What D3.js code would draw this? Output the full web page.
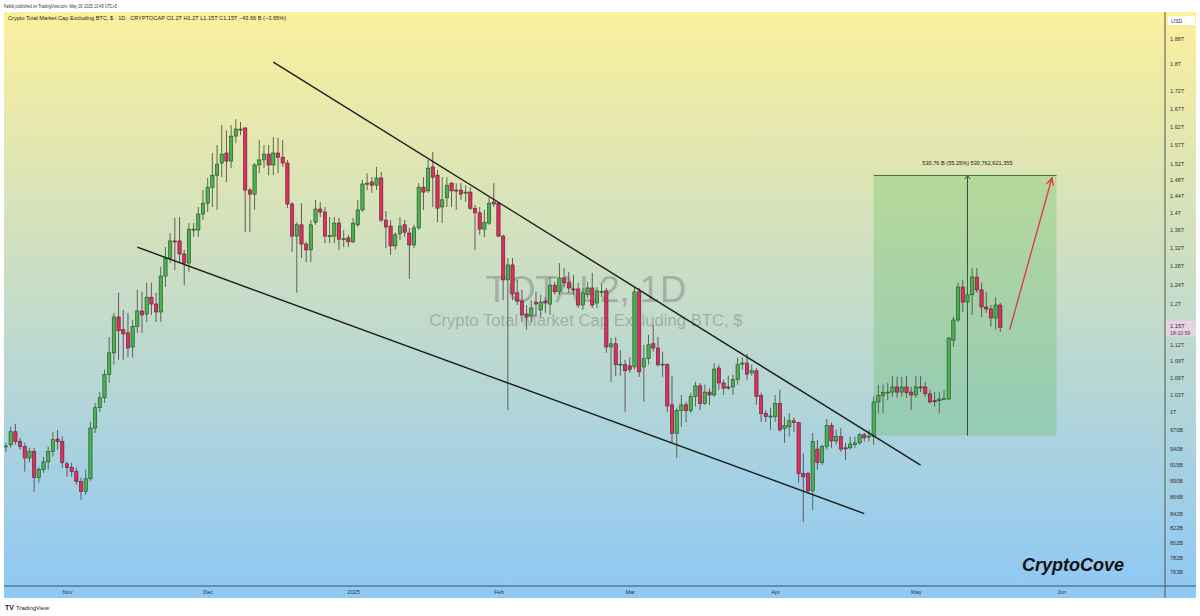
<!DOCTYPE html>
<html>
<head>
<meta charset="utf-8">
<script src="https://cdn.jsdelivr.net/npm/d3@7"></script>
<style>
  body { margin: 0; background: #fff; }
  text { font-family: "Liberation Sans", Arial, sans-serif; }
</style>
</head>
<body>
<div id="chart"></div>
<script>
var svgWidth = 1200;
var svgHeight = 616;

// daily candles from 2024-10-19 to 2025-05-19, values in trillions USD
var firstDay = "2024-10-19";

var opens = [
  .943, .946, .967, .951, .943, .925, .935, .895, .907, .919,
  .935, .955, .951, .916, .910, .904, .889, .874, .893, .973,
  1.007, 1.024, 1.065, 1.105, 1.174, 1.149, 1.143, 1.116, 1.155, 1.186,
  1.180, 1.214, 1.200, 1.184, 1.258, 1.297, 1.335, 1.335, 1.306, 1.286,
  1.360, 1.360, 1.397, 1.423, 1.462, 1.492, 1.523, 1.549, 1.528, 1.594,
  1.613, 1.616, 1.455, 1.445, 1.518, 1.531, 1.546, 1.518, 1.549, 1.538,
  1.523, 1.421, 1.346, 1.372, 1.328, 1.315, 1.378, 1.409, 1.402, 1.346,
  1.346, 1.376, 1.339, 1.342, 1.333, 1.372, 1.407, 1.470, 1.475, 1.467,
  1.485, 1.383, 1.369, 1.324, 1.351, 1.372, 1.353, 1.326, 1.365, 1.462,
  1.453, 1.513, 1.492, 1.414, 1.436, 1.472, 1.455, 1.455, 1.448, 1.450,
  1.411, 1.400, 1.362, 1.376, 1.426, 1.423, 1.346, 1.250, 1.282, 1.223,
  1.206, 1.180, 1.176, 1.204, 1.188, 1.206, 1.200, 1.239, 1.225, 1.254,
  1.244, 1.231, 1.231, 1.198, 1.219, 1.233, 1.202, 1.225, 1.227, 1.116,
  1.122, 1.083, 1.083, 1.081, 1.079, 1.225, 1.079, 1.094, 1.122, 1.114,
  1.083, 1.083, 1.012, .964, 1.002, 1.012, 1.002, 1.026, 1.045, 1.014,
  1.034, 1.029, 1.077, 1.050, 1.043, 1.043, 1.056, 1.085, 1.086, 1.068,
  1.072, 1.028, .997, .993, .992, 1.014, .972, .975, .985, .982,
  .901, .901, .875, .939, .918, .943, .977, .952, .959, .941,
  .941, .946, .949, .962, .959, .959, 1.017, 1.028, 1.033, 1.034,
  1.043, 1.034, 1.043, 1.034, 1.029, 1.043, 1.043, 1.031, 1.019, 1.019,
  1.022, 1.022, 1.129, 1.168, 1.235, 1.204, 1.219, 1.256, 1.229, 1.194,
  1.190, 1.172, 1.198
];

var highs = [
  .949, .975, .980, .957, .949, .941, .941, .911, .927, .943,
  .967, .970, .959, .919, .918, .910, .895, .907, .983, 1.015,
  1.034, 1.074, 1.135, 1.182, 1.223, 1.188, 1.182, 1.168, 1.229, 1.225,
  1.244, 1.244, 1.223, 1.278, 1.321, 1.353, 1.388, 1.390, 1.315, 1.376,
  1.376, 1.414, 1.455, 1.485, 1.549, 1.570, 1.624, 1.610, 1.624, 1.640,
  1.632, 1.618, 1.460, 1.523, 1.583, 1.570, 1.570, 1.591, 1.589, 1.583,
  1.531, 1.426, 1.378, 1.423, 1.333, 1.383, 1.431, 1.426, 1.414, 1.390,
  1.390, 1.388, 1.360, 1.349, 1.388, 1.431, 1.480, 1.497, 1.487, 1.513,
  1.500, 1.404, 1.383, 1.355, 1.390, 1.383, 1.365, 1.372, 1.472, 1.487,
  1.531, 1.552, 1.505, 1.487, 1.487, 1.475, 1.472, 1.472, 1.467, 1.462,
  1.419, 1.414, 1.407, 1.436, 1.472, 1.426, 1.349, 1.297, 1.297, 1.250,
  1.229, 1.198, 1.208, 1.225, 1.219, 1.214, 1.256, 1.246, 1.286, 1.275,
  1.267, 1.261, 1.244, 1.233, 1.246, 1.265, 1.235, 1.244, 1.233, 1.133,
  1.135, 1.110, 1.092, 1.097, 1.235, 1.233, 1.120, 1.139, 1.158, 1.135,
  1.107, 1.086, 1.063, 1.007, 1.029, 1.017, 1.033, 1.052, 1.050, 1.047,
  1.041, 1.086, 1.083, 1.056, 1.063, 1.065, 1.096, 1.097, 1.103, 1.083,
  1.077, 1.033, 1.003, 1.007, 1.029, 1.038, .992, .998, .990, .983,
  .932, .904, .965, .954, .946, .988, .982, .970, .973, .949,
  .959, .959, .965, .965, .970, 1.026, 1.047, 1.047, 1.050, 1.063,
  1.061, 1.061, 1.063, 1.043, 1.063, 1.063, 1.052, 1.038, 1.034, 1.034,
  1.038, 1.135, 1.174, 1.244, 1.250, 1.275, 1.275, 1.275, 1.244, 1.225,
  1.198, 1.214, 1.202
];

var lows = [
  .935, .941, .946, .938, .904, .918, .874, .887, .902, .907,
  .927, .938, .910, .896, .896, .884, .862, .869, .890, .965,
  1.000, 1.015, 1.050, 1.083, 1.092, 1.092, 1.097, 1.096, 1.143, 1.143,
  1.164, 1.178, 1.164, 1.164, 1.235, 1.286, 1.271, 1.288, 1.239, 1.267,
  1.344, 1.344, 1.383, 1.402, 1.414, 1.407, 1.487, 1.475, 1.510, 1.575,
  1.597, 1.355, 1.355, 1.407, 1.497, 1.510, 1.492, 1.492, 1.497, 1.513,
  1.411, 1.310, 1.223, 1.297, 1.288, 1.288, 1.372, 1.390, 1.330, 1.330,
  1.330, 1.315, 1.321, 1.321, 1.330, 1.367, 1.402, 1.455, 1.448, 1.455,
  1.378, 1.319, 1.304, 1.315, 1.337, 1.344, 1.252, 1.319, 1.360, 1.407,
  1.448, 1.414, 1.378, 1.376, 1.414, 1.414, 1.407, 1.431, 1.426, 1.407,
  1.315, 1.349, 1.344, 1.372, 1.414, 1.344, 1.208, 1.003, 1.208, 1.198,
  1.164, 1.149, 1.164, 1.174, 1.174, 1.182, 1.178, 1.219, 1.219, 1.235,
  1.223, 1.219, 1.192, 1.188, 1.212, 1.192, 1.192, 1.214, 1.105, 1.052,
  1.063, 1.063, 1.000, 1.068, 1.074, 1.061, 1.017, 1.083, 1.107, 1.079,
  1.061, 1.000, .949, .925, .975, .983, .998, 1.009, 1.003, 1.012,
  1.012, 1.026, 1.038, 1.029, 1.038, 1.029, 1.047, 1.074, 1.056, 1.063,
  1.012, .983, .983, .970, .983, .967, .949, .959, .967, .887,
  .830, .871, .847, .907, .914, .938, .941, .946, .935, .922,
  .938, .941, .946, .951, .951, .946, .997, .998, 1.020, 1.026,
  1.024, 1.026, 1.024, 1.003, 1.024, 1.034, 1.026, 1.014, 1.009, .998,
  1.020, 1.020, 1.116, 1.164, 1.184, 1.182, 1.178, 1.223, 1.174, 1.182,
  1.155, 1.149, 1.145
];

var closes = [
  .944, .967, .951, .943, .925, .935, .895, .907, .919, .935,
  .954, .951, .918, .910, .904, .889, .874, .893, .973, 1.007,
  1.024, 1.065, 1.105, 1.174, 1.147, 1.141, 1.114, 1.155, 1.186, 1.178,
  1.214, 1.200, 1.184, 1.258, 1.297, 1.335, 1.333, 1.306, 1.286, 1.362,
  1.362, 1.397, 1.423, 1.462, 1.492, 1.520, 1.546, 1.528, 1.594, 1.613,
  1.612, 1.455, 1.445, 1.518, 1.531, 1.546, 1.518, 1.549, 1.538, 1.523,
  1.421, 1.346, 1.372, 1.328, 1.315, 1.372, 1.409, 1.402, 1.346, 1.347,
  1.376, 1.339, 1.340, 1.333, 1.376, 1.407, 1.470, 1.472, 1.467, 1.485,
  1.383, 1.367, 1.324, 1.349, 1.369, 1.355, 1.326, 1.365, 1.462, 1.450,
  1.510, 1.487, 1.411, 1.431, 1.467, 1.453, 1.454, 1.445, 1.450, 1.411,
  1.400, 1.362, 1.378, 1.423, 1.421, 1.346, 1.250, 1.282, 1.221, 1.206,
  1.178, 1.174, 1.192, 1.200, 1.204, 1.202, 1.239, 1.225, 1.254, 1.244,
  1.233, 1.230, 1.198, 1.223, 1.233, 1.198, 1.227, 1.226, 1.116, 1.122,
  1.083, 1.084, 1.072, 1.074, 1.225, 1.070, 1.094, 1.120, 1.114, 1.083,
  1.084, 1.010, .964, 1.002, 1.012, 1.002, 1.026, 1.045, 1.014, 1.034,
  1.029, 1.075, 1.050, 1.041, 1.042, 1.056, 1.083, 1.086, 1.066, 1.072,
  1.026, .997, .992, .993, 1.014, .970, .977, .985, .982, .901,
  .896, .875, .951, .918, .943, .977, .952, .959, .939, .940,
  .947, .949, .962, .957, .960, 1.017, 1.028, 1.033, 1.034, 1.043,
  1.034, 1.043, 1.033, 1.029, 1.043, 1.042, 1.031, 1.017, 1.018, 1.022,
  1.023, 1.133, 1.168, 1.235, 1.204, 1.219, 1.256, 1.229, 1.194, 1.190,
  1.172, 1.198, 1.153
];

var priceTicks = [1.88, 1.8, 1.72, 1.67, 1.62, 1.57, 1.52, 1.48, 1.44, 1.4, 1.36, 1.32,
  1.28, 1.24, 1.2, 1.12, 1.09, 1.06, 1.03, 1, 0.97, 0.94, 0.915, 0.89, 0.866, 0.842,
  0.822, 0.802, 0.782, 0.763];
var monthTicks = ["2024-11-01", "2024-12-01", "2025-01-01", "2025-02-01", "2025-03-01",
  "2025-04-01", "2025-05-01", "2025-06-01"];

// drawings on the chart (date, value in T)
var upperTrendDates = ["2024-12-15", "2025-05-02"];
var upperTrendValues = [1.806, 0.914];
var lowerTrendDates = ["2024-11-16", "2025-04-20"];
var lowerTrendValues = [1.321, 0.842];
var rangeDates = ["2025-04-22", "2025-05-12", "2025-05-31"];
var rangeValues = [0.9607, 1.4914];
var arrowDates = ["2025-05-21", "2025-05-30"];
var arrowValues = [1.149, 1.485];
var lastPrice = 1.153;

var parseDay = d3.utcParse("%Y-%m-%d");
var start = parseDay(firstDay);

var candles = closes.map(function(c, i) {
  return { date: d3.utcDay.offset(start, i), o: opens[i], h: highs[i], l: lows[i], c: c };
});

var plotLeft = 4, plotRight = 1165, plotTop = 12, plotBottom = 586, axisBottom = 598;

var xScale = d3.scaleUtc()
  .domain([start, d3.utcDay.offset(start, candles.length - 1)])
  .range([6, 1000.3]);

var yScale = d3.scaleLog()
  .domain([0.745, 1.966])
  .range([plotBottom, plotTop]);

var svg = d3.select("#chart")
  .append("svg")
  .attr("width", svgWidth)
  .attr("height", svgHeight);

var defs = svg.append("defs");
var grad = defs.append("linearGradient")
  .attr("id", "bg")
  .attr("gradientUnits", "userSpaceOnUse")
  .attr("x1", 0).attr("y1", plotTop)
  .attr("x2", 0).attr("y2", axisBottom);
grad.append("stop").attr("offset", "0%").attr("stop-color", "#fbf09c");
grad.append("stop").attr("offset", "100%").attr("stop-color", "#8ec8f6");

defs.append("clipPath").attr("id", "plotClip")
  .append("rect")
  .attr("x", plotLeft).attr("y", plotTop)
  .attr("width", plotRight - plotLeft).attr("height", plotBottom - plotTop);

svg.append("rect")
  .attr("x", plotLeft).attr("y", plotTop)
  .attr("width", 1196 - plotLeft).attr("height", axisBottom - plotTop)
  .attr("fill", "url(#bg)");

// header texts
svg.append("text")
  .attr("x", 4).attr("y", 7.5)
  .attr("font-size", 5).attr("fill", "#333")
  .attr("textLength", 113).attr("lengthAdjust", "spacingAndGlyphs")
  .text("Falbik published on TradingView.com, May 19, 2025 10:49 UTC+5");

svg.append("text")
  .attr("x", 8).attr("y", 20)
  .attr("font-size", 6).attr("fill", "#222")
  .attr("textLength", 278).attr("lengthAdjust", "spacingAndGlyphs")
  .text("Crypto Total Market Cap Excluding BTC, $ · 1D · CRYPTOCAP  O1.2T  H1.2T  L1.15T  C1.15T  −43.66 B (−3.65%)");

var plotArea = svg.append("g").attr("clip-path", "url(#plotClip)");

// watermark
plotArea.append("text")
  .attr("x", 586).attr("y", 302)
  .attr("text-anchor", "middle")
  .attr("font-size", 36.3)
  .attr("fill", "#6e6e6e").attr("fill-opacity", 0.42)
  .text("TOTAL2, 1D");

plotArea.append("text")
  .attr("x", 586).attr("y", 326)
  .attr("text-anchor", "middle")
  .attr("font-size", 16.7)
  .attr("fill", "#6e6e6e").attr("fill-opacity", 0.42)
  .text("Crypto Total Market Cap Excluding BTC, $");

// price range box
var rx0 = xScale(parseDay(rangeDates[0]));
var rx1 = xScale(parseDay(rangeDates[2]));
var rxm = xScale(parseDay(rangeDates[1]));
var ryLow = yScale(rangeValues[0]);
var ryHigh = yScale(rangeValues[1]);

plotArea.append("rect")
  .attr("x", rx0).attr("y", ryHigh)
  .attr("width", rx1 - rx0).attr("height", ryLow - ryHigh)
  .attr("fill", "#5cb85c").attr("fill-opacity", 0.3);

plotArea.append("line")
  .attr("x1", rx0).attr("x2", rx1)
  .attr("y1", ryHigh).attr("y2", ryHigh)
  .attr("stroke", "#3f6e3f").attr("stroke-width", 1);

plotArea.append("line")
  .attr("x1", rxm).attr("x2", rxm)
  .attr("y1", ryLow).attr("y2", ryHigh + 1)
  .attr("stroke", "#3c4a3c").attr("stroke-width", 1);

plotArea.append("path")
  .attr("d", "M" + (rxm - 2.5) + "," + (ryHigh + 3.5) + "L" + rxm + "," + ryHigh + "L" + (rxm + 2.5) + "," + (ryHigh + 3.5))
  .attr("fill", "none").attr("stroke", "#3c4a3c").attr("stroke-width", 1);

plotArea.append("text")
  .attr("x", rxm).attr("y", ryHigh - 10)
  .attr("text-anchor", "middle")
  .attr("font-size", 5.6).attr("fill", "#222")
  .text("530.76 B (55.25%) 530,762,621,355");

// candles
var candleGroup = plotArea.append("g");
var bodyWidth = 3.3;

candleGroup.selectAll("line.wick")
  .data(candles)
  .enter()
  .append("line")
  .attr("class", "wick")
  .attr("x1", d => xScale(d.date))
  .attr("x2", d => xScale(d.date))
  .attr("y1", d => yScale(d.h))
  .attr("y2", d => yScale(d.l))
  .attr("stroke", d => d.c >= d.o ? "#46603f" : "#5e4650")
  .attr("stroke-width", 0.9);

candleGroup.selectAll("rect.body")
  .data(candles)
  .enter()
  .append("rect")
  .attr("class", "body")
  .attr("x", d => xScale(d.date) - bodyWidth / 2)
  .attr("y", d => yScale(Math.max(d.o, d.c)))
  .attr("width", bodyWidth)
  .attr("height", d => Math.max(1, Math.abs(yScale(d.o) - yScale(d.c))))
  .attr("fill", d => d.c >= d.o ? "#4caf50" : "#dc2f5f")
  .attr("stroke", d => d.c >= d.o ? "#1f4d22" : "#5a1f30")
  .attr("stroke-width", 0.6);

// trend lines
var trendLine = d3.line()
  .x(d => xScale(parseDay(d[0])))
  .y(d => yScale(d[1]));

plotArea.append("path")
  .datum(d3.zip(upperTrendDates, upperTrendValues))
  .attr("d", trendLine)
  .attr("fill", "none").attr("stroke", "#1b1b1b").attr("stroke-width", 1.4);

plotArea.append("path")
  .datum(d3.zip(lowerTrendDates, lowerTrendValues))
  .attr("d", trendLine)
  .attr("fill", "none").attr("stroke", "#1b1b1b").attr("stroke-width", 1.4);

// projection arrow
var ax0 = xScale(parseDay(arrowDates[0])), ay0 = yScale(arrowValues[0]);
var ax1 = xScale(parseDay(arrowDates[1])), ay1 = yScale(arrowValues[1]);
var ang = Math.atan2(ay1 - ay0, ax1 - ax0);
var headLen = 8;

plotArea.append("path")
  .datum(d3.zip(arrowDates, arrowValues))
  .attr("d", trendLine)
  .attr("fill", "none").attr("stroke", "#e2334f").attr("stroke-width", 1.3);

plotArea.append("path")
  .attr("d", "M" + (ax1 - headLen * Math.cos(ang - 0.45)) + "," + (ay1 - headLen * Math.sin(ang - 0.45)) +
    "L" + ax1 + "," + ay1 +
    "L" + (ax1 - headLen * Math.cos(ang + 0.45)) + "," + (ay1 - headLen * Math.sin(ang + 0.45)))
  .attr("fill", "none").attr("stroke", "#e2334f").attr("stroke-width", 1.3);

// signature
svg.append("text")
  .attr("x", 1022).attr("y", 571)
  .attr("font-size", 18).attr("font-weight", "bold").attr("font-style", "italic")
  .attr("fill", "#111")
  .text("CryptoCove");

// axes frame
svg.append("line")
  .attr("x1", plotLeft).attr("x2", 1196)
  .attr("y1", plotBottom).attr("y2", plotBottom)
  .attr("stroke", "#3e4f5e").attr("stroke-width", 1);

svg.append("line")
  .attr("x1", plotRight).attr("x2", plotRight)
  .attr("y1", plotTop).attr("y2", axisBottom)
  .attr("stroke", "#4e5a4a").attr("stroke-width", 1);

// right price axis
var yAxis = d3.axisRight(yScale)
  .tickValues(priceTicks)
  .tickSize(0)
  .tickPadding(5)
  .tickFormat(d => d >= 1 ? d3.format("~g")(d) + "T" : Math.round(d * 1000) + "B");

var yAxisG = svg.append("g")
  .attr("transform", "translate(" + plotRight + ",0)")
  .call(yAxis);
yAxisG.select(".domain").remove();
yAxisG.selectAll("text")
  .attr("font-size", 5.6).attr("fill", "#333")
  .attr("font-family", "Liberation Sans, Arial, sans-serif");

// USD label
svg.append("rect")
  .attr("x", 1168).attr("y", 16).attr("width", 27).attr("height", 9)
  .attr("fill", "#fff");
svg.append("text")
  .attr("x", 1171).attr("y", 22.5)
  .attr("font-size", 5.4).attr("fill", "#333")
  .text("USD");

// last price label
var lastY = yScale(lastPrice);
svg.append("rect")
  .attr("x", plotRight + 1).attr("y", lastY - 7)
  .attr("width", 30).attr("height", 16)
  .attr("fill", "#e7d3e4");
svg.append("text")
  .attr("x", plotRight + 5).attr("y", lastY + 0.5)
  .attr("font-size", 5.8).attr("fill", "#2a2a2a")
  .text(d3.format(".3~g")(lastPrice) + "T");
svg.append("text")
  .attr("x", plotRight + 5).attr("y", lastY + 7)
  .attr("font-size", 5.2).attr("fill", "#444")
  .text("18:10:59");

// bottom time axis
var monthFormat = d => d.getUTCMonth() === 0 ? d3.utcFormat("%Y")(d) : d3.utcFormat("%b")(d);
var xAxis = d3.axisBottom(xScale)
  .tickValues(monthTicks.map(parseDay))
  .tickSize(0)
  .tickPadding(4)
  .tickFormat(monthFormat);

var xAxisG = svg.append("g")
  .attr("transform", "translate(0," + plotBottom + ")")
  .call(xAxis);
xAxisG.select(".domain").remove();
xAxisG.selectAll("text")
  .attr("font-size", 5.6).attr("fill", "#333")
  .attr("font-family", "Liberation Sans, Arial, sans-serif");

// TradingView footer
svg.append("text")
  .attr("x", 5).attr("y", 610)
  .attr("font-size", 7).attr("font-weight", "bold").attr("fill", "#131722")
  .text("TV");
svg.append("text")
  .attr("x", 16).attr("y", 610)
  .attr("font-size", 6).attr("fill", "#131722")
  .text("TradingView");
</script>
</body>
</html>
